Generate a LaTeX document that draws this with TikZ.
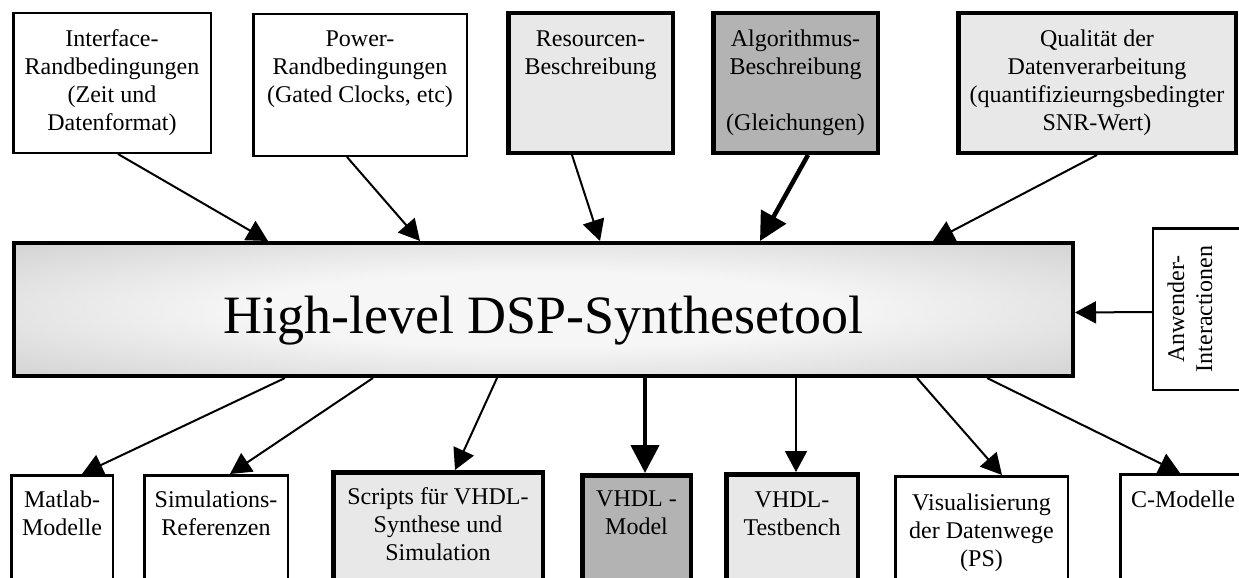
\documentclass[tikz,border=0pt]{standalone}
\usepackage{fontspec}
\setmainfont{Liberation Serif}
\usetikzlibrary{arrows.meta,calc}
\definecolor{boxlight}{HTML}{E8E8E8}
\definecolor{boxdark}{HTML}{B3B3B3}
\definecolor{shin}{HTML}{F6F6F6}
\definecolor{shmid}{HTML}{D2D2D2}
\definecolor{shout}{HTML}{C3C3C3}
\pgfdeclareradialshading{mainshade}{\pgfpoint{0bp}{0bp}}{color(0bp)=(shin); color(14bp)=(shin); color(36bp)=(shmid); color(50bp)=(shout); color(75bp)=(shout)}
\newcommand\bxt[4]{\parbox[c][#1][t]{#2}{\centering\vspace*{#3}\strut #4}}
\tikzset{
  txt/.style={font=\fontsize{24}{28}\selectfont},
  thinbox/.style={draw, line width=2.5pt, fill=white, inner sep=0pt, txt},
  thickbox/.style={draw, line width=4.5pt, inner sep=0pt, txt},
  lightbox/.style={thickbox, fill=boxlight},
  darkbox/.style={thickbox, fill=boxdark},
  mainbox/.style={draw, line width=4pt, shade, shading=mainshade, inner sep=0pt,
    minimum width=1059pt, minimum height=133pt,
    font=\fontsize{54}{60}\selectfont, text height=55pt, text depth=8pt},
  thinarrow/.style={line width=2pt, -{Triangle[length=21pt,width=22pt]}},
  thickarrow/.style={line width=4.5pt, -{Triangle[length=28pt,width=28pt]}},
}
\begin{document}
\begin{tikzpicture}[x=1pt,y=-1pt]
\useasboundingbox (0,0) rectangle (1239,578);
\clip (0,0) rectangle (1239,578);

% top row
\node[thinbox] (interface) at (112,83) {\bxt{139.5pt}{197.5pt}{14pt}{Interface-\\Randbedingungen\\(Zeit und\\Datenformat)}};
\node[thinbox] (power) at (360,85) {\bxt{141.5pt}{213.5pt}{13pt}{Power-\\Randbedingungen\\(Gated Clocks, etc)}};
\node[lightbox] (resource) at (590.5,83) {\bxt{139.5pt}{164.5pt}{14pt}{Resourcen-\\Beschreibung}};
\node[darkbox] (algo) at (795.5,83) {\bxt{139.5pt}{164.5pt}{14pt}{Algorithmus-\\Beschreibung\\\mbox{}\\(Gleichungen)}};
\node[lightbox] (quality) at (1097,83) {\bxt{139.5pt}{277.5pt}{14pt}{Qualität der\\Datenverarbeitung\\(quantifizieurngsbedingter\\SNR-Wert)}};

% main
\node[mainbox] (main) at (543.5,309.5) {High-level DSP-Synthesetool};

% right
\node[thinbox, minimum width=106.75pt, minimum height=161.5pt] (anw) at (1206.6,309) {};
\node[txt, rotate=90, align=center, inner sep=0pt] (anwtext) at (1190,309) {Anwender-\\Interactionen};

% bottom row
\node[thinbox] (matlab) at (62,540.25) {\bxt{130pt}{101.5pt}{13pt}{Matlab-\\Modelle}};
\node[thinbox] (simul) at (216,540.25) {\bxt{130pt}{143.5pt}{13pt}{Simulations-\\Referenzen}};
\node[lightbox] (scripts) at (438,537.25) {\bxt{130pt}{209.5pt}{13pt}{Scripts für VHDL-\\Synthese und\\Simulation}};
\node[darkbox] (vhdl) at (636.5,540.25) {\bxt{130pt}{108.5pt}{12pt}{VHDL -\\Model}};
\node[lightbox] (testbench) at (792,539.25) {\bxt{130pt}{131.5pt}{14pt}{VHDL-\\Testbench}};
\node[thinbox] (visual) at (981.5,541.25) {\bxt{130pt}{172.5pt}{15pt}{Visualisierung\\der Datenwege\\(PS)}};
\node[thinbox] (cmodel) at (1183,539.25) {\bxt{130pt}{125.5pt}{14pt}{C-Modelle}};

% arrows in
\draw[thinarrow] ([xshift=6pt]interface.south) -- ([xshift=-275.5pt]main.north);
\draw[thinarrow] ([xshift=-13pt]power.south) -- ([xshift=-123.5pt]main.north);
\draw[thinarrow] ([xshift=-18.5pt]resource.south) -- ([xshift=56.5pt]main.north);
\draw[thickarrow] ([xshift=12.5pt]algo.south) -- ([xshift=216.5pt]main.north);
\draw[thinarrow] (quality.south) -- ([xshift=389.5pt]main.north);
\draw[thinarrow] ([yshift=-3pt]anw.west) -- ([yshift=-3pt]main.east);

% arrows out
\draw[thinarrow] ([xshift=-258.5pt]main.south) -- ([xshift=20pt]matlab.north);
\draw[thinarrow] ([xshift=-170.5pt]main.south) -- ([xshift=14pt]simul.north);
\draw[thinarrow] ([xshift=-46.5pt]main.south) -- ([xshift=17pt]scripts.north);
\draw[thickarrow] ([xshift=101.5pt]main.south) -- ([xshift=8.5pt]vhdl.north);
\draw[thinarrow] ([xshift=252.5pt]main.south) -- ([xshift=4pt]testbench.north);
\draw[thinarrow] ([xshift=373.5pt]main.south) -- ([xshift=20.5pt]visual.north);
\draw[thinarrow] ([xshift=443.5pt]main.south) -- ([xshift=-3pt]cmodel.north);
\end{tikzpicture}
\end{document}
